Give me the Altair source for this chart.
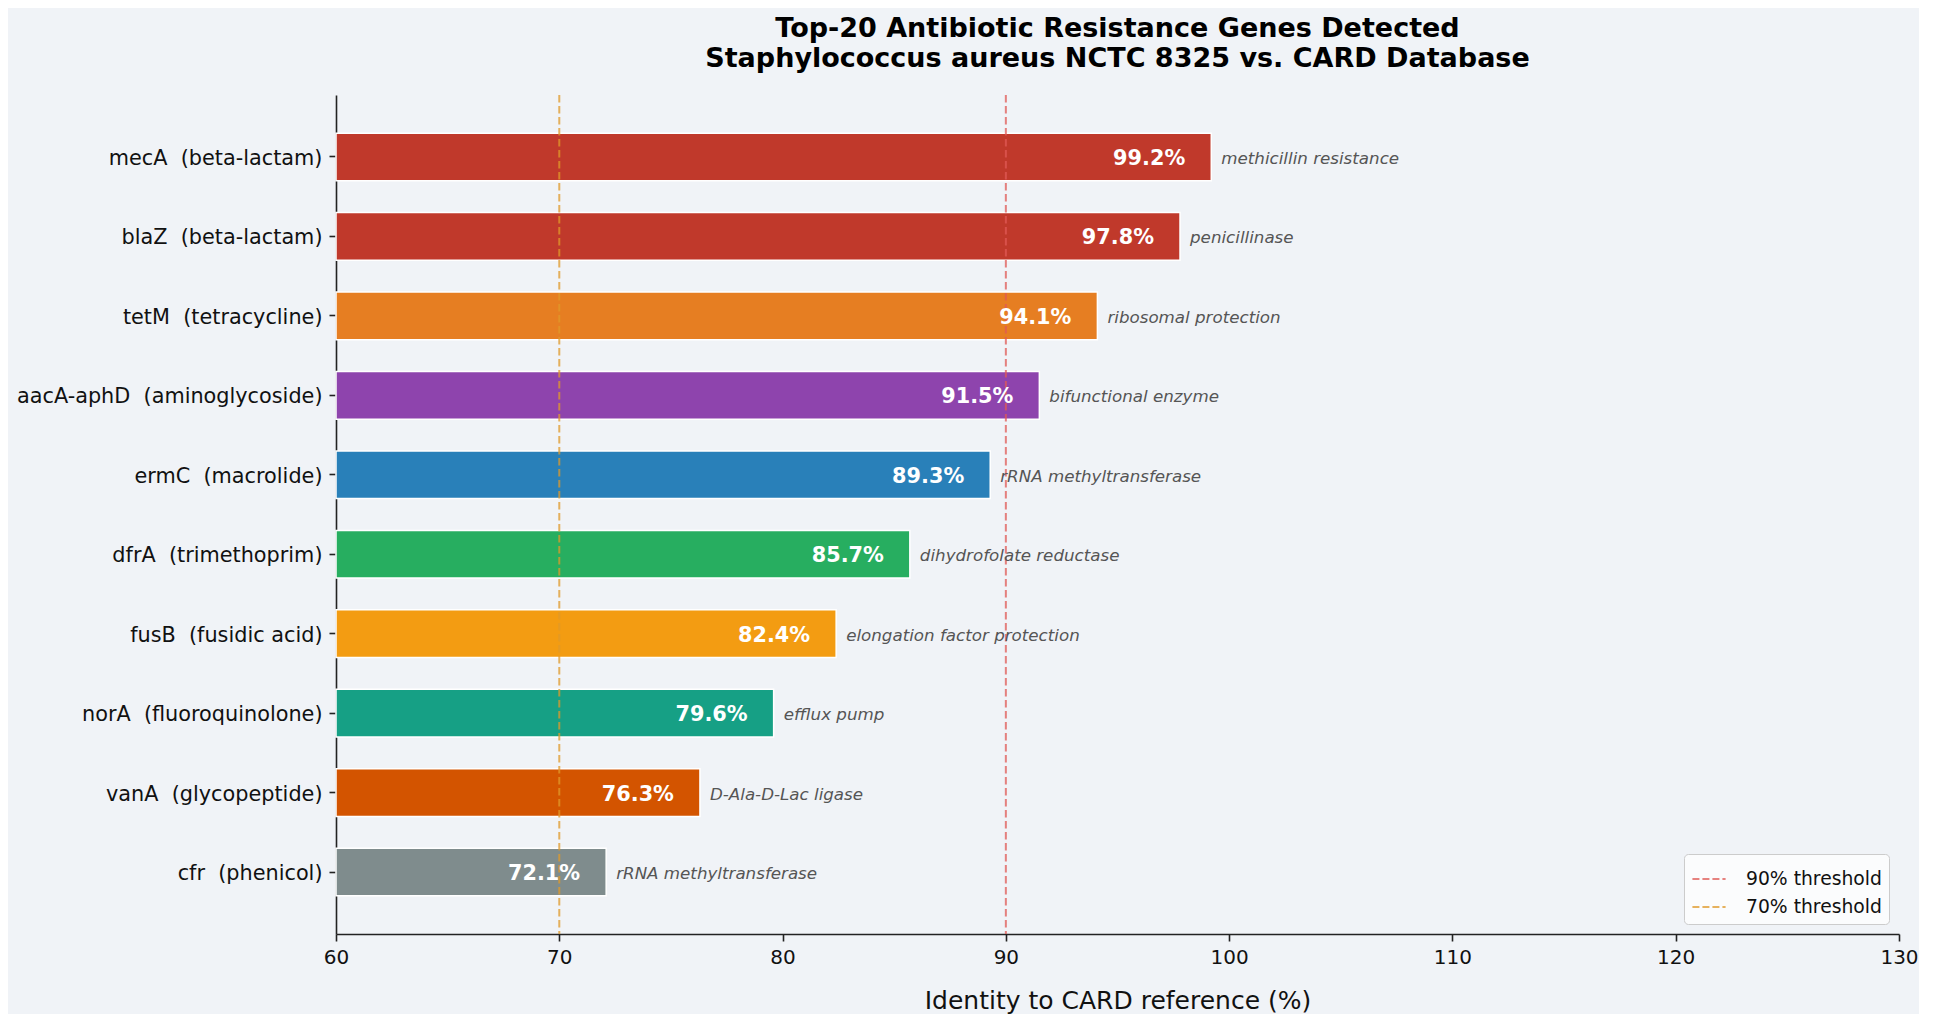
import altair as alt
import pandas as pd

genes = ["mecA", "blaZ", "tetM", "aacA-aphD", "ermC", "dfrA", "fusB", "norA", "vanA", "cfr"]
drug_classes = ["beta-lactam", "beta-lactam", "tetracycline", "aminoglycoside", "macrolide",
                "trimethoprim", "fusidic acid", "fluoroquinolone", "glycopeptide", "phenicol"]
identity = [99.2, 97.8, 94.1, 91.5, 89.3, 85.7, 82.4, 79.6, 76.3, 72.1]
mechanisms = ["methicillin resistance", "penicillinase", "ribosomal protection", "bifunctional enzyme",
              "rRNA methyltransferase", "dihydrofolate reductase", "elongation factor protection",
              "efflux pump", "D-Ala-D-Lac ligase", "rRNA methyltransferase"]
bar_colors = ["#c0392b", "#c0392b", "#e67e22", "#8e44ad", "#2980b9",
              "#27ae60", "#f39c12", "#16a085", "#d35400", "#7f8c8d"]

threshold_values = [90, 70]
threshold_names = ["90% threshold", "70% threshold"]
threshold_colors = ["#e05a55", "#e09a2a"]

x_ticks = [60, 70, 80, 90, 100, 110, 120, 130]

labels = [f"{g}\u00a0\u00a0({c})" for g, c in zip(genes, drug_classes)]

df = pd.DataFrame({
    "label": labels,
    "identity": identity,
    "pct": [f"{v:.1f}%" for v in identity],
    "mechanism": mechanisms,
    "color": bar_colors,
})
thr = pd.DataFrame({"value": threshold_values, "name": threshold_names})

FONT = "DejaVu Sans"

x_scale = alt.Scale(domain=[60, 130], nice=False, zero=False)
y_enc = alt.Y("label:N", sort=labels,
              scale=alt.Scale(paddingInner=0.4, paddingOuter=0.48),
              axis=alt.Axis(title=None, labelFontSize=20.8, labelColor="#111111",
                            tickSize=7, labelPadding=7, domainColor="#222222",
                            tickColor="#222222", domainWidth=1.6, tickWidth=1.6,
                            labelFont=FONT, labelLimit=0, labelOffset=2))

base = alt.Chart(df)

bars = base.mark_bar(stroke="white", strokeWidth=1.5).encode(
    x=alt.X("identity:Q", scale=x_scale,
            axis=alt.Axis(values=x_ticks, title="Identity to CARD reference (%)",
                          labelFontSize=20, labelColor="#111111", labelFlush=False,
                          tickSize=7, labelPadding=6, grid=False,
                          domainColor="#222222", tickColor="#222222",
                          domainWidth=1.6, tickWidth=1.6,
                          titleFontSize=25, titleFontWeight="normal",
                          titleColor="#111111", titlePadding=21,
                          labelFont=FONT, titleFont=FONT)),
    x2=alt.datum(60),
    y=y_enc,
    fill=alt.Fill("color:N", scale=None, legend=None),
)

rules = alt.Chart(thr).mark_rule(strokeDash=[7.5, 3.5], strokeWidth=2, opacity=0.75).encode(
    x=alt.X("value:Q", scale=x_scale),
    color=alt.Color("name:N",
                    scale=alt.Scale(domain=threshold_names, range=threshold_colors),
                    legend=alt.Legend(title=None, orient="bottom-right", offset=10,
                                      fillColor="#fbfcfd", strokeColor="#cccccc",
                                      cornerRadius=4, padding=7,
                                      labelFontSize=18.75, labelFont=FONT,
                                      labelColor="#111111",
                                      symbolType="stroke", symbolDash=[7, 3],
                                      symbolStrokeWidth=2, symbolSize=1100,
                                      symbolOpacity=0.75, labelOffset=19,
                                      rowPadding=-5)),
)

pct_text = base.mark_text(align="right", baseline="middle", dx=-26, dy=2, color="white",
                          fontWeight="bold", fontSize=20.8, font=FONT).encode(
    x=alt.X("identity:Q", scale=x_scale),
    y=alt.Y("label:N", sort=labels),
    text="pct:N",
)

mech_text = base.mark_text(align="left", baseline="middle", dx=10, dy=2, color="#555555",
                           fontStyle="italic", fontSize=16.7, font=FONT).encode(
    x=alt.X("identity:Q", scale=x_scale),
    y=alt.Y("label:N", sort=labels),
    text="mechanism:N",
)

chart = alt.layer(bars, rules, pct_text, mech_text).resolve_scale(
    color="independent", fill="independent"
).properties(
    width=1563,
    height=839,
    title=alt.Title(
        ["Top-20 Antibiotic Resistance Genes Detected",
         "Staphylococcus aureus NCTC 8325 vs. CARD Database"],
        fontSize=27, font=FONT, fontWeight="bold", color="#000000",
        anchor="middle", frame="group", lineHeight=30, offset=-6, baseline="bottom"),
    autosize=alt.AutoSizeParams(type="none"),
    padding={"left": 328, "top": 87, "right": 20, "bottom": 80},
).configure(
    background="#f0f3f7",
).configure_view(
    stroke=None,
)

chart.save("out.html", embed_options={"renderer": "svg", "actions": False})
